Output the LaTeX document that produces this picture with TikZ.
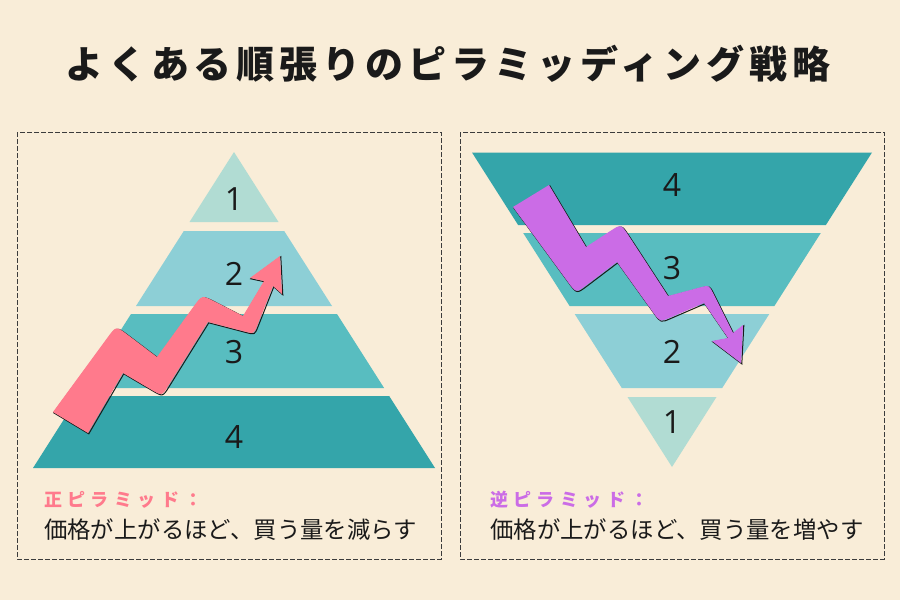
\documentclass[tikz,border=0pt]{standalone}
\usepackage{fontspec}
\usetikzlibrary{calc}
\newfontfamily\jpfont{Noto Sans CJK JP}
\newfontfamily\jptitlefont{Noto Sans CJK JP}[LetterSpace=13]
\newfontfamily\jplabfont{Noto Sans CJK JP}[LetterSpace=30]
\newfontfamily\numfont{Open Sans}
\definecolor{bgc}{HTML}{F9EDD8}
\definecolor{lay1}{HTML}{B1DCD3}
\definecolor{lay2}{HTML}{8DCFD6}
\definecolor{lay3}{HTML}{58BDC0}
\definecolor{lay4}{HTML}{34A5AA}
\definecolor{pinkc}{HTML}{FF7A8C}
\definecolor{purplec}{HTML}{CB6CE6}
\definecolor{inkc}{HTML}{1A1A1A}
\definecolor{dashc}{HTML}{3C3C3C}
\tikzset{
  boxline/.style={draw=dashc, line width=1pt, dash pattern=on 5pt off 2pt},
  numlbl/.style={font=\numfont\fontsize{32}{34}\selectfont, text=inkc, inner sep=0pt},
  headlbl/.style={font=\jplabfont\bfseries\fontsize{18}{20}\selectfont, inner sep=0pt, anchor=base west},
  desclbl/.style={font=\jpfont\fontsize{23.4}{26}\selectfont, text=inkc, inner sep=0pt, anchor=base west},
  shadowline/.style={draw=inkc, line width=1pt, transform canvas={shift={(0.8pt,-0.8pt)}}}
}
\newcommand\pinkarrowpath{(p1) -- ($(p2)!14pt!(p1)$) .. controls (p2) .. ($(p2)!14pt!(p3)$) -- (p3) -- ($(p4)!14pt!(p3)$) .. controls (p4) .. ($(p4)!14pt!(p5)$) -- (p5) -- (p6) -- (p7) -- (p8) -- (p9) -- (p10) -- ($(p11)!9pt!(p10)$) .. controls (p11) .. ($(p11)!9pt!(p12)$) -- (p12) -- ($(p13)!12pt!(p12)$) .. controls (p13) .. ($(p13)!12pt!(p14)$) -- (p14) -- (p15) -- cycle}
\newcommand\purplearrowpath{(q1) -- (q2) -- (q3) -- ($(q4)!13pt!(q3)$) .. controls (q4) .. ($(q4)!13pt!(q5)$) -- (q5) -- ($(q6)!9pt!(q5)$) .. controls (q6) .. ($(q6)!9pt!(q7)$) -- (q7) -- (q8) -- (q9) -- (q10) -- (q11) -- (q12) -- ($(q13)!11pt!(q12)$) .. controls (q13) .. ($(q13)!11pt!(q14)$) -- (q14) -- ($(q15)!13pt!(q14)$) .. controls (q15) .. ($(q15)!13pt!(q1)$) -- cycle}
\begin{document}
\begin{tikzpicture}[x=1pt,y=-1pt]
\fill[bgc] (0,0) rectangle (900,600);
\useasboundingbox (0,0) rectangle (900,600);

% title
\node[font=\jptitlefont\bfseries\fontsize{38}{40}\selectfont, text=inkc, inner sep=0pt, anchor=base west] (title) at (65,78) {よくある順張りのピラミッディング戦略};

% frames
\draw[boxline] (17,132) rectangle (441,559);
\draw[boxline] (460,132) rectangle (884,559);

% left pyramid
\fill[lay1] (234,152) -- (278.5,222) -- (189.5,222) -- cycle;
\fill[lay2] (183.8,231) -- (284.2,231) -- (332,306) -- (136,306) -- cycle;
\fill[lay3] (131,314) -- (337,314) -- (384.1,388) -- (83.9,388) -- cycle;
\fill[lay4] (78.8,396) -- (389.2,396) -- (435,468) -- (33,468) -- cycle;
\node[numlbl] (l1) at (234,199) {1};
\node[numlbl] (l2) at (234,274) {2};
\node[numlbl] (l3) at (234,352) {3};
\node[numlbl] (l4) at (234,437) {4};

% right pyramid
\fill[lay4] (472,152.5) -- (872,152.5) -- (825.9,225) -- (518.1,225) -- cycle;
\fill[lay3] (523.2,233) -- (820.8,233) -- (774.4,306) -- (569.6,306) -- cycle;
\fill[lay2] (574.7,314) -- (769.3,314) -- (722.2,388) -- (621.8,388) -- cycle;
\fill[lay1] (627.5,397) -- (716.5,397) -- (672,467) -- cycle;
\node[numlbl] (r4) at (672,185) {4};
\node[numlbl] (r3) at (672,268) {3};
\node[numlbl] (r2) at (672,352) {2};
\node[numlbl] (r1) at (672,422) {1};

% pink arrow
\coordinate (p1) at (53,412);
\coordinate (p2) at (116,326);
\coordinate (p3) at (157,357);
\coordinate (p4) at (202,295);
\coordinate (p5) at (243,316);
\coordinate (p6) at (264,281);
\coordinate (p7) at (250,278);
\coordinate (p8) at (280,256);
\coordinate (p9) at (282,294);
\coordinate (p10) at (273,286);
\coordinate (p11) at (254,334);
\coordinate (p12) at (208,322);
\coordinate (p13) at (162,396);
\coordinate (p14) at (123,373);
\coordinate (p15) at (88,433);
\draw[shadowline] \pinkarrowpath;
\fill[pinkc] \pinkarrowpath;

% purple arrow
\coordinate (q1) at (513,207);
\coordinate (q2) at (549,185);
\coordinate (q3) at (586,247);
\coordinate (q4) at (621,224);
\coordinate (q5) at (668,296);
\coordinate (q6) at (709,285);
\coordinate (q7) at (733,333);
\coordinate (q8) at (743,325);
\coordinate (q9) at (741,363);
\coordinate (q10) at (712,341);
\coordinate (q11) at (728,338);
\coordinate (q12) at (704,303);
\coordinate (q13) at (660,322);
\coordinate (q14) at (617,262);
\coordinate (q15) at (576,293);
\draw[shadowline] \purplearrowpath;
\fill[purplec] \purplearrowpath;

% captions
\node[headlbl, text=pinkc] (lhead) at (44,506) {正ピラミッド：};
\node[desclbl] (ldesc) at (44,538.5) {価格が上がるほど、買う量を減らす};
\node[headlbl, text=purplec] (rhead) at (490,506) {逆ピラミッド：};
\node[desclbl] (rdesc) at (490,538.5) {価格が上がるほど、買う量を増やす};
\end{tikzpicture}
\end{document}
